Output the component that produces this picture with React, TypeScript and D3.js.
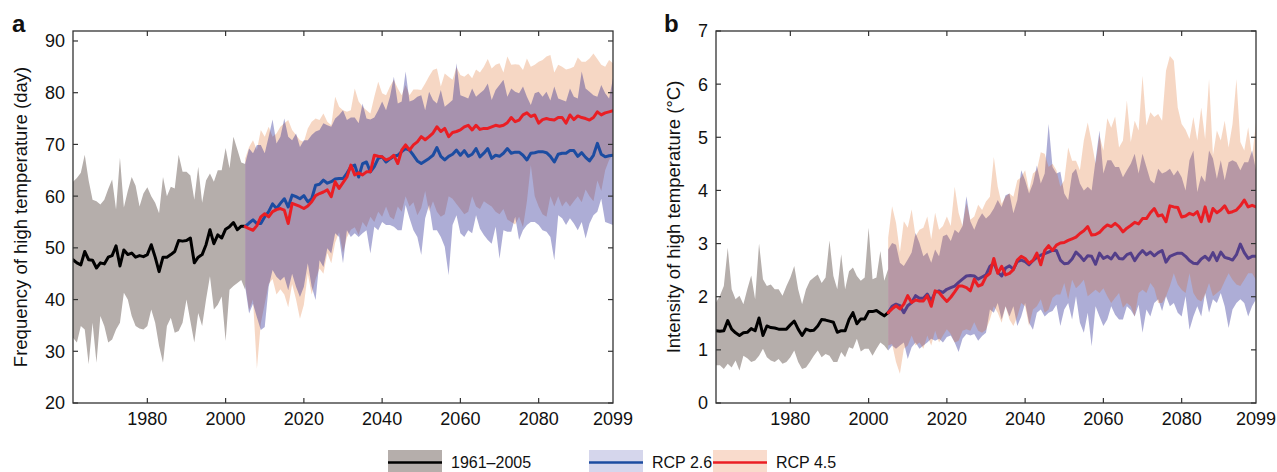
import React from 'react';
import * as d3 from 'd3';

// ---- data ----
const histYears = d3.range(1961, 2006);
const projYears = d3.range(2005, 2100);

const yearTicks = [1980, 2000, 2020, 2040, 2060, 2080];
const endYearLabel = 2099;
const freqTicks = [20, 30, 40, 50, 60, 70, 80, 90];
const intTicks = [0, 1, 2, 3, 4, 5, 6, 7];

// panel a: frequency of high temperature (day)
const histFreqMean = [47.7, 47.1, 46.7, 49.3, 47.7, 47.6, 46.1, 47.1, 46.9, 48.2, 48.5, 50.4, 46.5, 49.6, 48.7, 49, 48.2, 48.5, 48.3, 48.7, 50.6, 48.2, 45.4, 48.2, 48.2, 48.7, 49.3, 51.4, 51.3, 51.4, 51.9, 47.1, 48.2, 48.7, 50.6, 53.5, 50.8, 52.5, 51.9, 53.6, 54.1, 54.9, 53.5, 54.2, 54.2];
const histFreqHi = [62.8, 63.5, 64.5, 68, 63, 59.3, 59, 58.4, 59.3, 61.4, 63.2, 57.4, 67.4, 57.8, 61, 63.7, 62, 58, 60.5, 61.7, 60, 58.7, 56.7, 63.7, 60, 61.8, 61.5, 68, 64.7, 64.7, 64, 59.3, 65.7, 58.7, 63, 64.4, 62.8, 65, 65, 69.3, 65.4, 71.5, 69, 66.5, 66.2];
const histFreqLo = [32.6, 31.7, 34.9, 34.2, 27.5, 35.5, 27.8, 36.8, 34.9, 31.7, 32.3, 34.2, 35.5, 41.3, 40, 36.8, 34.9, 34.4, 34.2, 34.9, 38.1, 35.5, 31, 27.8, 34.9, 36.5, 33.6, 33.9, 35.5, 40, 35.8, 31.7, 37.4, 34.9, 40, 44.5, 38.1, 39, 40.6, 32, 41.9, 42.6, 43.2, 43.8, 41.9];

const rcp26FreqMean = [
  54.1, 54.8, 55.4, 54.7, 54.7, 56, 57, 58.5, 57.6, 58.6,
  59.5, 57.9, 60.2, 59.9, 59.5, 60.1, 58.9, 59.5, 62.1, 62.3,
  63.1, 62.5, 62.8, 63.3, 63.4, 63.4, 64.4, 65.7, 66, 63.7,
  66.3, 66.6, 64.7, 65.7, 67.3, 67.6, 66.6, 67.2, 67.7, 67.9,
  68.6, 69.2, 68.9, 67.9, 66.8, 66.3, 66.8, 67.3, 67.9, 69.4,
  67.7, 67, 67.7, 68.1, 68.9, 67.9, 68.8, 67.7, 68.1, 69.2,
  67.6, 68.3, 69.2, 67.3, 67.9, 67.7, 68.3, 69.2, 68.3, 68.5,
  68.5, 67.9, 67, 68.3, 68.4, 68.6, 68.6, 68.4, 67.7, 66.6,
  68.1, 68.3, 68.3, 68.8, 68.8, 67.7, 68.4, 67.5, 66.8, 67.9,
  70.2, 68.1, 67.6, 67.8, 67.9];
const rcp26FreqHi = [
  66.3, 69.2, 68.3, 69.9, 69.9, 68.3, 71.5, 74.8, 70.2, 71.5,
  75, 71.5, 70.8, 72.1, 69.5, 70.8, 70.8, 71.8, 72.5, 72.8,
  74.1, 73.7, 73.4, 75, 75.7, 76.6, 74.7, 75.2, 75.2, 74.1,
  77.9, 75, 74.8, 75.2, 76.6, 78.3, 76.6, 79.2, 83.1, 77.9,
  78.3, 84.1, 78.3, 78.6, 79.2, 79.5, 76.6, 80.2, 78.6, 77.9,
  80.5, 77.3, 77.9, 78.6, 85.7, 79.5, 79.2, 78.9, 80.8, 79.2,
  79.9, 80.5, 81.8, 78.6, 80.5, 81.5, 82.5, 79.2, 80.8, 80.2,
  79.9, 81.2, 79.2, 77.6, 79.9, 80.2, 79.2, 80.2, 78.5, 81.2,
  78.9, 78.6, 78.3, 80.8, 79.2, 78.9, 84.1, 80.8, 80.2, 79.5,
  79.2, 81.5, 79.9, 78.9, 82.8];
const rcp26FreqLo = [
  42.5, 37.3, 39.2, 36.6, 34.1, 34.7, 42.5, 45.7, 44.4, 43.7,
  44.4, 41.8, 45, 42.5, 40.5, 42.5, 47, 42.5, 39.9, 47.6,
  46.3, 49.9, 48.9, 52.8, 52.1, 47, 53.4, 52.1, 52.8, 52.1,
  52.8, 53.4, 48.9, 54.1, 53.4, 55, 54.4, 54.4, 54.1, 53.4,
  53.4, 58.3, 55.7, 53.4, 52.1, 48.6, 55.7, 58.3, 53.4, 53.4,
  52.1, 50.2, 44.7, 54.4, 56.3, 52.8, 52.1, 53.4, 52.8, 56.3,
  53.7, 52.5, 51.5, 50.8, 54.1, 47.9, 53.4, 53.1, 53.1, 56,
  51.5, 53.4, 54.4, 55, 55, 54.4, 53.4, 53.1, 52.1, 47.6,
  56.3, 55.7, 54.4, 55.7, 54.7, 53.4, 55, 51.8, 54.7, 56.3,
  57, 59.5, 55, 54.7, 54.4];

const rcp45FreqMean = [
  54.1, 53.7, 53.4, 54.3, 56, 56.6, 56, 57, 57.4, 57.6,
  57.3, 54.7, 58.6, 58.3, 58, 57.6, 58.1, 58.9, 60.1, 60.5,
  60.8, 61.2, 59.9, 62.8, 61.5, 62.6, 63.7, 66, 64.1, 64.5,
  64.1, 64.7, 64.7, 67.9, 67.7, 67.6, 67, 67.3, 67.9, 66.3,
  68.9, 69.9, 68.9, 69.9, 70.5, 71.5, 70.9, 71.5, 72.2, 73.4,
  72.5, 73.1, 71.5, 72.3, 72.5, 72.8, 73.4, 73.7, 72.8, 73.7,
  72.9, 73.1, 73.1, 73.4, 73.7, 73.5, 73.7, 74.2, 75.2, 74.4,
  74.7, 75.7, 76.1, 75.4, 75.7, 74.1, 74.8, 75, 74.8, 74.7,
  75.2, 75.2, 74.1, 75.7, 74.8, 75.5, 75.2, 75, 74.7, 75.2,
  76.3, 75.7, 76.1, 76.3, 76.5];
const rcp45FreqHi = [
  67.3, 69.5, 70.8, 68.9, 72.8, 71.5, 73.4, 71.5, 72.1, 73.4,
  74.1, 74.7, 72.8, 71.8, 70.8, 70.5, 73.1, 74.4, 75, 74.7,
  76, 74.4, 73.7, 79.2, 77.3, 76.6, 76.3, 76.6, 80.8, 78.3,
  77.3, 76.6, 76, 79.2, 82.1, 79.9, 79.5, 81.2, 82.5, 80.8,
  79.5, 81.5, 79.5, 80.6, 80.6, 80.5, 81.8, 83.2, 84.4, 84.7,
  81.2, 83.7, 83.1, 82.5, 84.9, 83.4, 83.1, 83.7, 82.8, 84.5,
  83.9, 85, 86.5, 84.7, 85.4, 85.7, 83.9, 87, 85.4, 85.5,
  85.4, 84.4, 86.6, 85, 85.4, 86, 86.3, 87, 87.3, 83.9,
  85.4, 85, 84.5, 84.7, 85, 86.8, 86, 86, 86.6, 87.6,
  86.5, 85.4, 85, 86.3, 85.7];
const rcp45FreqLo = [
  43, 38, 40, 26.6, 35.4, 39.2, 43, 44, 41, 42,
  41, 38.5, 43, 40, 36.3, 39, 45, 41, 44, 46,
  45, 49, 47, 51, 53, 49, 52, 53.5, 54, 52.5,
  55, 54, 56, 55, 57, 56, 58, 56, 55.5, 58,
  57, 60, 58, 58.8, 56.3, 57.7, 61, 57, 59, 57,
  56, 56.5, 60, 59.5, 58.5, 57.5, 56.5, 57, 60, 58,
  57.5, 59, 58.5, 58, 57, 56.5, 57.5, 55.5, 55, 54.5,
  56, 54, 59, 66, 60, 58, 56.5, 56, 60, 58,
  60, 58, 59, 58, 59, 60, 58.8, 61.3, 60, 59,
  63, 61, 65, 67, 68];

// panel b: intensity of high temperature (°C)
const histIntMean = [1.36, 1.35, 1.36, 1.55, 1.39, 1.32, 1.27, 1.32, 1.33, 1.40, 1.36, 1.60, 1.27, 1.45, 1.42, 1.41, 1.39, 1.39, 1.39, 1.47, 1.54, 1.39, 1.27, 1.39, 1.36, 1.37, 1.45, 1.57, 1.56, 1.54, 1.52, 1.33, 1.36, 1.36, 1.57, 1.70, 1.49, 1.58, 1.58, 1.72, 1.72, 1.74, 1.69, 1.64, 1.70];
const histIntHi = [1.89, 2.02, 2.2, 2.92, 2.14, 1.95, 2.02, 1.86, 2.14, 2.40, 1.95, 3.0, 2.33, 2.20, 2.23, 2.14, 2.14, 2.02, 2.20, 2.36, 2.58, 2.14, 1.86, 2.14, 2.30, 2.36, 2.42, 2.26, 2.36, 3.06, 2.39, 2.14, 2.80, 2.14, 2.48, 2.55, 2.39, 2.30, 2.36, 3.30, 2.33, 2.36, 2.86, 2.30, 2.52];
const histIntLo = [0.71, 0.71, 0.64, 0.74, 0.67, 0.80, 0.61, 0.89, 0.84, 0.77, 0.80, 0.89, 1.02, 0.86, 0.80, 0.77, 0.83, 0.74, 0.77, 0.86, 0.99, 0.77, 0.64, 0.67, 0.77, 0.89, 0.99, 0.86, 0.92, 0.89, 0.77, 0.77, 0.96, 0.86, 1.05, 1.02, 1.21, 0.97, 1.02, 1.02, 0.89, 1.02, 1.14, 1.08, 0.99];

const rcp26IntMean = [
  1.70, 1.82, 1.86, 1.83, 1.70, 1.83, 1.89, 2.02, 1.97, 1.97, 2.05, 1.92, 2.08, 2.11, 2.08, 2.14, 2.17, 2.20, 2.27, 2.33, 2.39, 2.40, 2.39, 2.33,
  2.37, 2.41, 2.57, 2.63, 2.46, 2.39, 2.54, 2.58, 2.52, 2.66, 2.69, 2.66, 2.60, 2.68, 2.74, 2.78, 2.81, 2.84, 2.87, 2.87,
  2.69, 2.62, 2.63, 2.71, 2.84, 2.77, 2.68, 2.77, 2.76, 2.61, 2.82, 2.72, 2.76, 2.71, 2.82, 2.72, 2.71, 2.79, 2.82, 2.68,
  2.79, 2.87, 2.79, 2.84, 2.77, 2.83, 2.87, 2.65, 2.76, 2.79, 2.82, 2.82, 2.76, 2.68, 2.63, 2.62, 2.71, 2.76, 2.69, 2.83,
  2.68, 2.84, 2.74, 2.72, 2.69, 2.79, 2.99, 2.83, 2.72, 2.76, 2.76];
const rcp26IntHi = [
  2.89, 3.01, 2.98, 2.64, 2.58, 2.70, 2.83, 3.20, 3.01, 2.76, 2.83, 2.64, 2.89, 2.76, 3.14, 3.17, 3.05, 3.26, 3.20, 3.33, 3.89, 3.42, 3.26, 3.45,
  3.57, 3.47, 3.54, 3.66, 3.82, 3.69, 3.91, 3.94, 3.57, 3.82, 4.38, 4.19, 3.94, 4.13, 4.47, 4.13, 4.32, 5.25, 4.44, 4.32,
  4.35, 3.94, 3.82, 4.32, 4.41, 4.13, 4.00, 4.07, 4.00, 4.57, 5.13, 4.32, 4.57, 4.57, 4.44, 4.44, 4.25, 4.38, 4.50, 4.69,
  4.32, 4.69, 4.44, 4.19, 4.13, 4.41, 4.32, 4.35, 4.41, 4.28, 4.38, 4.25, 4.00, 4.57, 4.75, 3.97, 4.28, 4.16, 4.75, 4.60,
  4.22, 4.57, 4.19, 4.53, 4.57, 4.53, 4.38, 4.53, 4.53, 4.75, 4.38];
const rcp26IntLo = [
  0.99, 1.08, 1.02, 1.08, 1.14, 0.83, 1.05, 1.14, 1.02, 1.08, 1.14, 1.21, 1.17, 1.21, 1.14, 1.24, 1.27, 1.14, 0.96, 1.21, 1.30, 1.27, 1.30, 1.17,
  1.26, 1.32, 1.76, 1.70, 1.88, 1.57, 1.82, 1.63, 1.82, 1.45, 1.63, 1.88, 1.51, 1.38, 1.70, 1.76, 1.63, 1.70, 1.73, 1.85,
  1.45, 1.76, 1.88, 1.57, 2.01, 1.51, 1.32, 1.70, 1.07, 1.82, 1.63, 1.45, 1.57, 1.82, 1.66, 1.57, 1.57, 1.82, 1.75, 1.63,
  1.85, 1.32, 1.76, 1.63, 1.88, 1.95, 1.73, 2.01, 1.82, 1.88, 1.70, 1.63, 2.01, 1.38, 1.63, 1.82, 1.63, 2.07, 1.70, 1.95,
  1.88, 2.07, 1.82, 1.41, 1.76, 1.88, 1.95, 1.88, 1.63, 1.82, 1.95];

const rcp45IntMean = [
  1.70, 1.77, 1.83, 1.77, 1.86, 2.02, 1.89, 1.94, 1.92, 1.92, 2.02, 1.82, 2.11, 2.08, 1.99, 1.91, 1.99, 2.09, 2.20, 2.20, 2.17, 2.11, 2.33, 2.20,
  2.23, 2.38, 2.44, 2.72, 2.44, 2.57, 2.41, 2.44, 2.51, 2.69, 2.76, 2.72, 2.63, 2.68, 2.82, 2.60,
  2.87, 2.96, 2.87, 2.97, 3.01, 3.02, 3.06, 3.09, 3.12, 3.19, 3.24, 3.32, 3.16, 3.17, 3.21, 3.29, 3.35, 3.32, 3.38, 3.32,
  3.22, 3.29, 3.34, 3.40, 3.37, 3.47, 3.47, 3.58, 3.66, 3.52, 3.54, 3.41, 3.71, 3.69, 3.68, 3.50, 3.52, 3.57, 3.54, 3.60,
  3.41, 3.69, 3.42, 3.66, 3.58, 3.63, 3.71, 3.58, 3.60, 3.63, 3.71, 3.82, 3.69, 3.72, 3.69];
const rcp45IntHi = [
  3.11, 3.70, 3.39, 2.83, 3.42, 3.30, 3.64, 3.14, 3.26, 3.30, 3.51, 3.08, 3.58, 3.26, 3.33, 3.51, 3.33, 4.07, 3.58, 3.33, 3.76, 3.45, 3.51, 3.73,
  3.63, 3.79, 3.88, 4.63, 4.07, 3.75, 3.88, 3.94, 3.88, 4.19, 4.25, 4.38, 4.00, 4.32, 4.38, 4.72, 4.69, 4.44, 4.50, 4.38,
  4.07, 4.19, 4.81, 4.56, 4.56, 4.38, 4.94, 5.28, 4.91, 4.50, 5.03, 4.75, 5.36, 5.18, 5.39, 4.81, 4.94, 5.69, 4.91, 5.31,
  5.13, 6.16, 5.22, 5.47, 5.38, 5.44, 5.31, 6.25, 6.53, 6.44, 5.56, 5.25, 5.14, 4.97, 5.38, 4.94, 5.56, 4.97, 6.09, 4.66,
  5.13, 4.94, 5.31, 4.81, 5.25, 6.09, 4.91, 4.75, 5.19, 4.63, 5.28];
const rcp45IntLo = [
  1.08, 1.11, 0.77, 0.55, 1.02, 1.08, 1.27, 1.08, 1.14, 1.02, 1.27, 1.08, 1.36, 1.14, 1.27, 1.39, 1.30, 1.14, 1.17, 1.36, 1.39, 1.36, 1.52, 1.36,
  1.32, 1.38, 1.57, 1.82, 1.70, 1.51, 1.82, 1.57, 1.45, 1.63, 1.88, 1.82, 1.45, 1.76, 1.82, 1.95, 1.70, 1.76, 1.98, 2.04,
  2.04, 2.26, 1.95, 2.32, 2.16, 2.23, 2.32, 2.01, 2.07, 2.13, 2.07, 2.16, 2.01, 1.88, 1.98, 2.07, 1.79, 1.88, 1.82, 1.63,
  2.07, 2.13, 2.07, 2.26, 2.16, 1.88, 1.88, 2.01, 2.20, 2.44, 2.23, 2.13, 2.07, 2.44, 2.07, 1.95, 1.91, 2.04, 2.26, 2.01,
  2.07, 2.13, 2.29, 2.44, 2.32, 2.23, 2.20, 2.32, 2.44, 2.44, 2.32];

// ---- styles ----
const FONT = '"Liberation Sans", Arial, Helvetica, sans-serif';
const histFill = '#b5aeab';
const rcp26Fill = '#000080';
const rcp45Fill = '#d9560a';
const rcp26Op = 0.32;
const rcp45Op = 0.24;
const histLine = '#000000';
const rcp26Line = '#1c4ca1';
const rcp45Line = '#ea1e24';

const TOP = 31;
const BOTTOM = 403;

type Series = { mean: number[]; hi: number[]; lo: number[] };

type PanelProps = {
  left: number;
  right: number;
  letter: string;
  letterX: number;
  yLabel: string;
  yLabelX: number;
  yDomain: [number, number];
  yTicks: number[];
  hist: Series;
  rcp26: Series;
  rcp45: Series;
  rcp26Under: boolean; // panel b puts RCP2.6 (band + line) below the RCP4.5 band
  rcp26Color: string;
};

function Panel(props: PanelProps) {
  const { left, right, letter, letterX, yLabel, yLabelX, yDomain, yTicks, hist, rcp26, rcp45, rcp26Under, rcp26Color } = props;
  const x = d3.scaleLinear().domain([1961, 2099]).range([left, right]);
  const y = d3.scaleLinear().domain(yDomain).range([BOTTOM, TOP]);

  const band = (years: number[], s: Series) =>
    d3.area<number>()
      .x((_, i) => x(years[i]))
      .y0((_, i) => y(s.lo[i]))
      .y1((_, i) => y(s.hi[i]))(s.mean) || '';
  const line = (years: number[], s: Series) =>
    d3.line<number>()
      .x((_, i) => x(years[i]))
      .y((d) => y(d))(s.mean) || '';

  const lineProps = { fill: 'none', strokeWidth: 3, strokeLinejoin: 'round' as const, strokeLinecap: 'round' as const };

  const histBand = <path d={band(histYears, hist)} fill={histFill} />;
  const b26 = <path d={band(projYears, rcp26)} fill={rcp26Fill} fillOpacity={rcp26Op} />;
  const b45 = <path d={band(projYears, rcp45)} fill={rcp45Fill} fillOpacity={rcp45Op} />;
  const l26 = <path d={line(projYears, rcp26)} stroke={rcp26Color} {...lineProps} />;
  const l45 = <path d={line(projYears, rcp45)} stroke={rcp45Line} {...lineProps} />;
  const lHist = <path d={line(histYears, hist)} stroke={histLine} {...lineProps} />;

  const clipId = `clip-${letter}`;
  const tickLen = 5;
  const axisColor = '#333';

  return (
    <g>
      <defs>
        <clipPath id={clipId}>
          <rect x={left} y={TOP} width={right - left} height={BOTTOM - TOP} />
        </clipPath>
      </defs>
      <g clipPath={`url(#${clipId})`}>
        {histBand}
        {rcp26Under ? (
          <>
            {b26}
            {l26}
            {b45}
            {lHist}
            {l45}
          </>
        ) : (
          <>
            {b45}
            {b26}
            {lHist}
            {l26}
            {l45}
          </>
        )}
      </g>
      <rect x={left} y={TOP} width={right - left} height={BOTTOM - TOP} fill="none" stroke={axisColor} strokeWidth={1.3} />
      {yTicks.map((t) => (
        <g key={`y${t}`}>
          <line x1={left} x2={left + tickLen} y1={y(t)} y2={y(t)} stroke={axisColor} strokeWidth={1.2} />
          <line x1={right} x2={right - tickLen} y1={y(t)} y2={y(t)} stroke={axisColor} strokeWidth={1.2} />
          <text x={left - 8} y={y(t)} dy="0.36em" textAnchor="end" fontSize={18} fontFamily={FONT} fill="#111">
            {t}
          </text>
        </g>
      ))}
      {yearTicks.map((t) => (
        <g key={`x${t}`}>
          <line x1={x(t)} x2={x(t)} y1={BOTTOM} y2={BOTTOM - tickLen} stroke={axisColor} strokeWidth={1.2} />
          <line x1={x(t)} x2={x(t)} y1={TOP} y2={TOP + tickLen} stroke={axisColor} strokeWidth={1.2} />
          <text x={x(t)} y={425} textAnchor="middle" fontSize={18} fontFamily={FONT} fill="#111">
            {t}
          </text>
        </g>
      ))}
      <text x={x(endYearLabel)} y={425} textAnchor="middle" fontSize={18} fontFamily={FONT} fill="#111">
        {endYearLabel}
      </text>
      <text
        transform={`translate(${yLabelX},${(TOP + BOTTOM) / 2}) rotate(-90)`}
        textAnchor="middle"
        fontSize={18.5}
        fontFamily={FONT}
        fill="#111"
      >
        {yLabel}
      </text>
      <text x={letterX} y={32} fontSize={24} fontWeight="bold" fontFamily={FONT} fill="#111">
        {letter}
      </text>
    </g>
  );
}

const legendItems = [
  { label: '1961–2005', fill: '#b5aeab', stroke: histLine, x: 388 },
  { label: 'RCP 2.6', fill: '#d5d6ec', stroke: rcp26Line, x: 589 },
  { label: 'RCP 4.5', fill: '#f9dbcc', stroke: rcp45Line, x: 713 },
];

export default function App() {
  return (
    <svg
      width={1277}
      height={472}
      style={{ position: 'absolute', left: 0, top: 0, display: 'block', background: '#fff' }}
    >
      <rect x={0} y={0} width={1277} height={472} fill="#fff" />
      <Panel
        left={73}
        right={613}
        letter="a"
        letterX={12}
        yLabel="Frequency of high temperature (day)"
        yLabelX={27}
        yDomain={[20, 91.93]}
        yTicks={freqTicks}
        hist={{ mean: histFreqMean, hi: histFreqHi, lo: histFreqLo }}
        rcp26={{ mean: rcp26FreqMean, hi: rcp26FreqHi, lo: rcp26FreqLo }}
        rcp45={{ mean: rcp45FreqMean, hi: rcp45FreqHi, lo: rcp45FreqLo }}
        rcp26Under={false}
        rcp26Color={rcp26Line}
      />
      <Panel
        left={716}
        right={1256}
        letter="b"
        letterX={664}
        yLabel="Intensity of high temperature (°C)"
        yLabelX={680}
        yDomain={[0, 7]}
        yTicks={intTicks}
        hist={{ mean: histIntMean, hi: histIntHi, lo: histIntLo }}
        rcp26={{ mean: rcp26IntMean, hi: rcp26IntHi, lo: rcp26IntLo }}
        rcp45={{ mean: rcp45IntMean, hi: rcp45IntHi, lo: rcp45IntLo }}
        rcp26Under={true}
        rcp26Color="#2a36b2"
      />
      {legendItems.map((it) => (
        <g key={it.label}>
          <rect x={it.x} y={450} width={54} height={26} fill={it.fill} />
          <line x1={it.x} x2={it.x + 54} y1={462.5} y2={462.5} stroke={it.stroke} strokeWidth={2.5} />
          <text x={it.x + 63} y={467.5} fontSize={16} fontFamily={FONT} fill="#111">
            {it.label}
          </text>
        </g>
      ))}
    </svg>
  );
}
